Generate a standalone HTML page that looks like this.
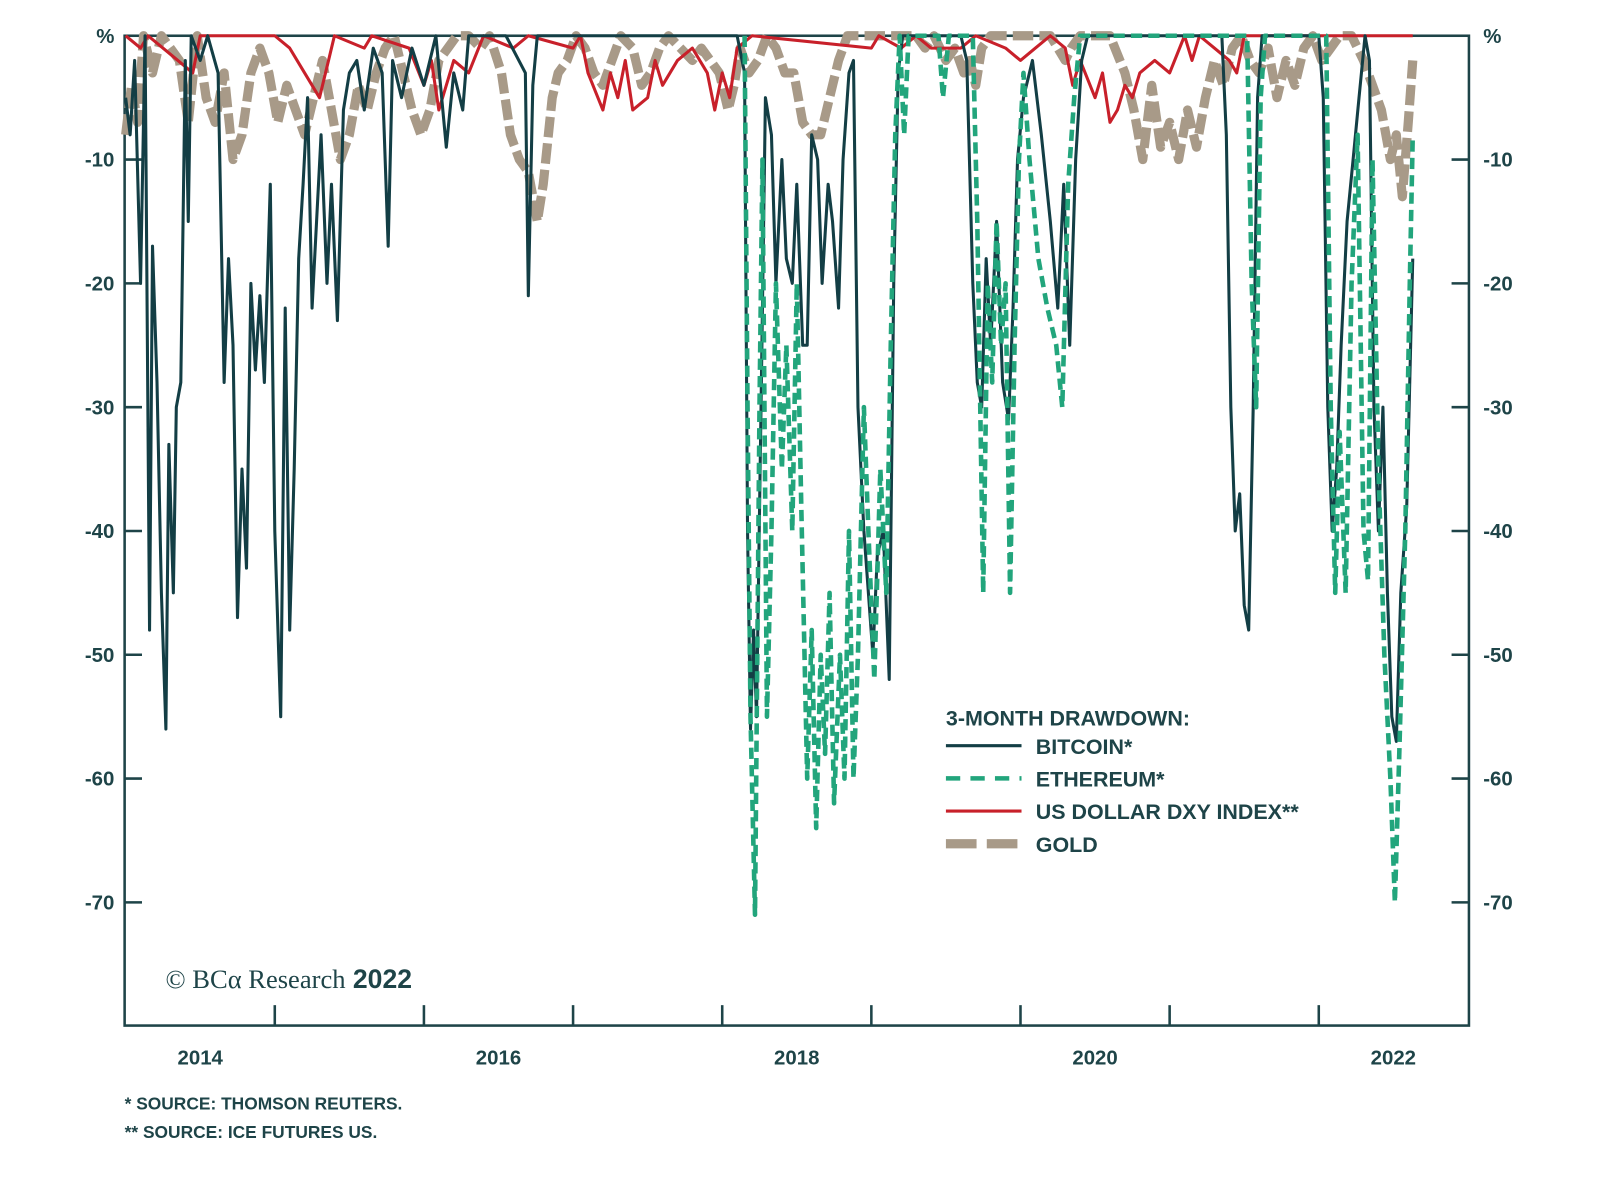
<!DOCTYPE html>
<html><head><meta charset="utf-8">
<style>
html,body{margin:0;padding:0;background:#fff;}
body{width:1600px;height:1179px;overflow:hidden;font-family:"Liberation Sans",sans-serif;}
svg text{font-family:"Liberation Sans",sans-serif;fill:#1e4448;font-weight:bold;}
</style></head>
<body>
<svg id="chart" width="1600" height="1179" viewBox="0 0 1566.3 1154.2" preserveAspectRatio="none" xmlns="http://www.w3.org/2000/svg"></svg>
<script>
const yTicks=[0,-10,-20,-30,-40,-50,-60,-70];
const yTickLabels=["%","-10","-20","-30","-40","-50","-60","-70"];
const xTickYears=[2015,2016,2017,2018,2019,2020,2021,2022];
const xLabelYears=[2014,2016,2018,2020,2022];
const btcDates=[2014.00,2014.03,2014.06,2014.10,2014.13,2014.16,2014.18,2014.21,2014.24,2014.27,2014.29,2014.32,2014.34,2014.37,2014.40,2014.42,2014.44,2014.50,2014.55,2014.62,2014.66,2014.69,2014.72,2014.75,2014.78,2014.81,2014.84,2014.87,2014.90,2014.93,2014.97,2015.00,2015.04,2015.07,2015.10,2015.13,2015.16,2015.19,2015.22,2015.25,2015.28,2015.31,2015.35,2015.38,2015.42,2015.46,2015.50,2015.55,2015.60,2015.66,2015.72,2015.76,2015.79,2015.85,2015.92,2016.00,2016.08,2016.15,2016.20,2016.26,2016.30,2016.45,2016.55,2016.68,2016.70,2016.73,2016.76,2016.9,2017.5,2018.10,2018.15,2018.17,2018.19,2018.21,2018.23,2018.26,2018.29,2018.33,2018.36,2018.40,2018.43,2018.47,2018.50,2018.54,2018.57,2018.60,2018.64,2018.67,2018.71,2018.74,2018.78,2018.81,2018.85,2018.88,2018.91,2018.95,2018.98,2019.01,2019.04,2019.08,2019.12,2019.15,2019.18,2019.21,2019.6,2019.64,2019.68,2019.71,2019.74,2019.77,2019.80,2019.84,2019.88,2019.92,2019.95,2019.98,2020.02,2020.08,2020.14,2020.20,2020.25,2020.29,2020.33,2020.37,2020.41,2020.45,2021.35,2021.38,2021.41,2021.44,2021.47,2021.50,2021.53,2021.56,2021.59,2021.62,2022.0,2022.03,2022.06,2022.09,2022.12,2022.15,2022.19,2022.23,2022.27,2022.31,2022.34,2022.37,2022.40,2022.43,2022.46,2022.49,2022.52,2022.55,2022.59,2022.63];
const btcValues=[-5,-8,-2,-20,0,-48,-17,-28,-45,-56,-33,-45,-30,-28,-2,-15,0,-2,0,-3,-28,-18,-25,-47,-35,-43,-20,-27,-21,-28,-12,-40,-55,-22,-48,-35,-18,-12,-5,-22,-15,-8,-20,-12,-23,-6,-3,-2,-6,-1,-3,-17,-2,-5,-1,-4,0,-9,-3,-6,0,0,0,-3,-21,-4,0,0,0,0,-3,-40,-56,-48,-55,-30,-5,-8,-20,-10,-18,-20,-12,-25,-25,-8,-10,-20,-12,-15,-22,-10,-3,-2,-30,-40,-45,-50,-42,-40,-52,-20,-3,0,0,-2,-20,-28,-30,-18,-25,-15,-28,-31,-22,-10,-5,-2,-8,-15,-22,-12,-25,-10,-2,0,0,-8,-30,-40,-37,-46,-48,-30,-5,0,0,-5,-30,-40,-35,-25,-15,-10,-5,0,-2,-30,-40,-30,-45,-55,-57,-45,-38,-18];
const ethDates=[2018.15,2018.17,2018.19,2018.22,2018.25,2018.27,2018.30,2018.33,2018.36,2018.40,2018.43,2018.47,2018.50,2018.53,2018.57,2018.60,2018.63,2018.66,2018.69,2018.72,2018.75,2018.79,2018.82,2018.85,2018.88,2018.91,2018.95,2018.98,2019.02,2019.06,2019.10,2019.13,2019.16,2019.19,2019.22,2019.25,2019.45,2019.48,2019.52,2019.68,2019.71,2019.73,2019.75,2019.78,2019.81,2019.84,2019.87,2019.90,2019.93,2019.96,2019.99,2020.02,2020.06,2020.12,2020.18,2020.24,2020.28,2020.32,2020.36,2020.40,2021.52,2021.55,2021.58,2021.61,2021.64,2022.05,2022.08,2022.11,2022.14,2022.18,2022.22,2022.26,2022.30,2022.33,2022.36,2022.40,2022.44,2022.48,2022.51,2022.54,2022.58,2022.61,2022.63];
const ethValues=[0,-30,-55,-71,-30,-10,-55,-40,-20,-35,-25,-40,-20,-38,-60,-48,-64,-50,-58,-45,-62,-50,-60,-40,-60,-50,-30,-40,-52,-35,-45,-25,-8,0,-8,0,0,-5,0,0,-15,-30,-45,-20,-28,-15,-25,-20,-45,-25,-10,-3,-10,-18,-22,-25,-30,-12,-5,0,0,-20,-30,-5,0,0,-30,-45,-32,-45,-20,-8,-40,-44,-10,-35,-50,-60,-70,-58,-40,-20,-8];
const goldDates=[2014.00,2014.04,2014.08,2014.12,2014.18,2014.24,2014.30,2014.36,2014.42,2014.48,2014.54,2014.60,2014.66,2014.72,2014.78,2014.84,2014.90,2014.96,2015.02,2015.08,2015.14,2015.20,2015.26,2015.32,2015.38,2015.44,2015.50,2015.56,2015.62,2015.68,2015.74,2015.80,2015.86,2015.92,2015.98,2016.04,2016.10,2016.16,2016.22,2016.30,2016.38,2016.44,2016.52,2016.58,2016.64,2016.70,2016.76,2016.80,2016.86,2016.90,2016.96,2017.02,2017.08,2017.14,2017.20,2017.26,2017.32,2017.40,2017.46,2017.52,2017.58,2017.64,2017.72,2017.80,2017.86,2017.92,2017.98,2018.04,2018.08,2018.12,2018.18,2018.24,2018.30,2018.36,2018.42,2018.48,2018.54,2018.60,2018.66,2018.72,2018.78,2018.84,2019.0,2019.3,2019.36,2019.42,2019.5,2019.56,2019.62,2019.66,2019.70,2019.74,2019.80,2020.2,2020.3,2020.34,2020.4,2020.6,2020.7,2020.76,2020.82,2020.88,2020.94,2021.0,2021.06,2021.12,2021.18,2021.24,2021.30,2021.36,2021.42,2021.48,2021.54,2021.60,2021.66,2021.72,2021.78,2021.84,2021.90,2021.96,2022.02,2022.08,2022.14,2022.22,2022.30,2022.36,2022.42,2022.48,2022.52,2022.56,2022.60,2022.63];
const goldValues=[-8,-4,-7,0,-3,0,-1,-2,-7,0,-5,-7,-3,-10,-8,-3,-1,-3,-7,-4,-6,-8,-5,-2,-6,-10,-8,-4,-6,-3,-1,0,-3,-6,-8,-6,-2,-1,0,0,-1,0,-3,-8,-10,-11,-15,-12,-5,-3,-2,0,-1,-3,-4,-2,0,-1,-4,-3,-1,0,-1,-2,-1,-2,-3,-6,-4,-1,-3,-2,0,-1,-3,-3,-7,-8,-8,-5,-2,0,0,0,-1,0,-2,-1,-3,-2,-4,-1,0,0,-2,-1,0,0,-3,-6,-10,-4,-9,-7,-10,-6,-9,-5,-2,-4,-1,0,-2,-3,-1,-5,-2,-4,-1,0,-2,-1,0,0,-2,-4,-6,-10,-8,-13,-7,-2];
const dxyDates=[2014.0,2014.1,2014.15,2014.25,2014.35,2014.45,2014.5,2015.0,2015.1,2015.2,2015.3,2015.36,2015.4,2015.6,2015.65,2015.9,2016.0,2016.05,2016.1,2016.15,2016.2,2016.3,2016.4,2016.6,2016.7,2017.0,2017.05,2017.1,2017.2,2017.25,2017.3,2017.35,2017.4,2017.5,2017.55,2017.6,2017.7,2017.8,2017.9,2017.95,2018.0,2018.05,2018.1,2018.2,2019.0,2019.05,2019.2,2019.3,2019.4,2019.6,2019.7,2019.9,2020.0,2020.1,2020.2,2020.3,2020.35,2020.4,2020.5,2020.55,2020.6,2020.65,2020.7,2020.75,2020.8,2020.9,2021.0,2021.1,2021.15,2021.2,2021.3,2021.4,2021.45,2021.5,2022.63];
const dxyValues=[0,-1,0,-1,-2,-3,0,0,-1,-3,-5,-2,0,-1,0,-1,-4,-2,-6,-4,-2,-3,0,-1,0,-1,0,-3,-6,-3,-5,-2,-6,-5,-2,-4,-2,-1,-3,-6,-3,-5,-1,0,-1,0,-1,0,-1,-1,0,-1,-2,-1,0,-1,-4,-2,-5,-3,-7,-6,-4,-5,-3,-2,-3,0,-2,0,-1,-2,-3,0,0];

const L=122,R=1438,T=35,B=1004;
const xs=y=>123+(y-2014)*146;
const ys=v=>T+(-v)*12.12;
const svg=document.getElementById('chart');
const NS='http://www.w3.org/2000/svg';
function mk(tag,attrs,parent){const e=document.createElementNS(NS,tag);for(const k in attrs)e.setAttribute(k,attrs[k]);(parent||svg).appendChild(e);return e;}
const ink='#1e4448';

const gAxes=mk('g',{});


mk('rect',{x:L,y:T,width:R-L,height:B-T,fill:'none',stroke:ink,'stroke-width':2.5},gAxes);
yTicks.forEach((v,i)=>{
  const y=ys(v);
  if(i>0){mk('line',{x1:L,x2:L+17,y1:y,y2:y,stroke:ink,'stroke-width':2.5},gAxes);
  mk('line',{x1:R-17,x2:R,y1:y,y2:y,stroke:ink,'stroke-width':2.5},gAxes);}
  const t1=mk('text',{x:112,y:y+7,'text-anchor':'end','font-size':20},gAxes);t1.textContent=yTickLabels[i];
  
  
  const t2=mk('text',{x:1452,y:y+7,'text-anchor':'start','font-size':20},gAxes);t2.textContent=yTickLabels[i];
  
  
});
xTickYears.forEach(yr=>{const x=xs(yr);mk('line',{x1:x,x2:x,y1:B-20,y2:B,stroke:ink,'stroke-width':2.5},gAxes);});
xLabelYears.forEach(yr=>{const t=mk('text',{x:xs(yr+0.5),y:1042,'text-anchor':'middle','font-size':20},gAxes);t.textContent=yr;
  
  });

function path(dates,vals){return dates.map((d,i)=>(i?'L':'M')+xs(d).toFixed(1)+','+ys(vals[i]).toFixed(1)).join(' ');}
const pg=mk('path',{d:path(goldDates,goldValues),fill:'none',stroke:'#a89a88','stroke-width':9,'stroke-dasharray':'20 6','stroke-linejoin':'round'});


const pd=mk('path',{d:path(dxyDates,dxyValues),fill:'none',stroke:'#c8202a','stroke-width':3,'stroke-linejoin':'round'});


const pb=mk('path',{d:path(btcDates,btcValues),fill:'none',stroke:'#133e45','stroke-width':3,'stroke-linejoin':'round'});


const pe=mk('path',{d:path(ethDates,ethValues),fill:'none',stroke:'#22a57c','stroke-width':4.5,'stroke-dasharray':'11 6','stroke-linejoin':'round'});



const lg=mk('g',{});


const lt=mk('text',{x:926,y:710,'font-size':21},lg);lt.textContent='3-MONTH DRAWDOWN:';
const items=[['BITCOIN*','#133e45',3,''],['ETHEREUM*','#22a57c',4.5,'14 10'],['US DOLLAR DXY INDEX**','#c8202a',3,''],['GOLD','#a89a88',9,'30 10']];
items.forEach((it,i)=>{const y=730+i*32;
  const ln=mk('line',{x1:926,x2:1000,y1:y,y2:y,stroke:it[1],'stroke-width':it[2],'stroke-dasharray':it[3]},lg);
  
  
  const t=mk('text',{x:1014,y:y+8,'font-size':21},lg);t.textContent=it[0];
  
  
});
const cp=mk('text',{x:162,y:967,'font-size':26});


cp.innerHTML='<tspan style="font-family:Liberation Serif,serif;font-weight:normal">© BCα Research</tspan> 2022';
const f1=mk('text',{x:122,y:1086,'font-size':17});f1.textContent='*  SOURCE: THOMSON REUTERS.';


const f2=mk('text',{x:122,y:1114,'font-size':17});f2.textContent='** SOURCE: ICE FUTURES US.';


</script>
</body></html>
